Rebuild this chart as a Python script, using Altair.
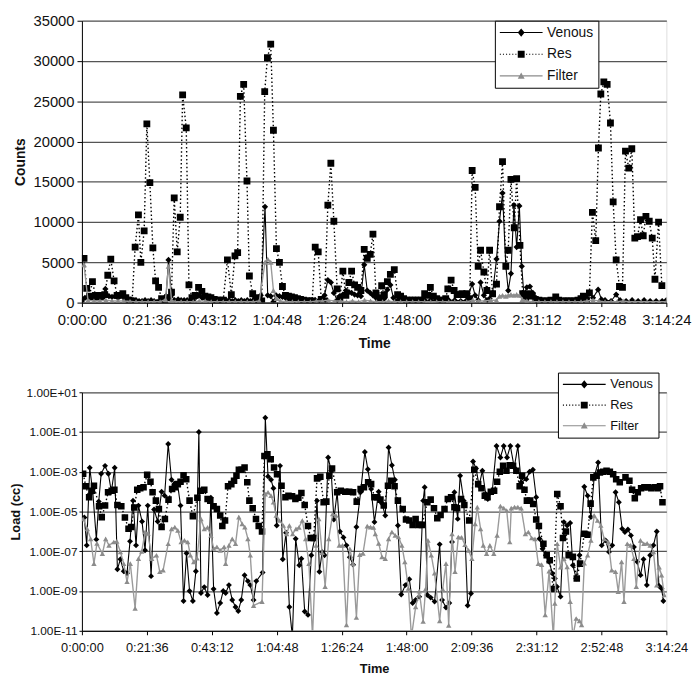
import altair as alt
import pandas as pd

SERIES = ["Venous", "Res", "Filter"]

# ---------------- top panel (Counts) : (minutes, counts) ----------------
TOP_VENOUS = [
    (0.0, 200), (1.0, 600), (2.0, 700), (3.0, 600), (4.0, 500), (5.0, 600), (6.0, 700), (7.0, 600),
    (7.8, 1700), (9.0, 800), (10.0, 700), (11.0, 800), (12.0, 600), (13.0, 900), (14.0, 700),
    (15.0, 500), (16.0, 400), (17.0, 300), (18.0, 300), (19.0, 200), (20.0, 200), (21.0, 300),
    (22.0, 200), (23.0, 300), (24.0, 200), (25.0, 100), (26.0, 200), (27.0, 300), (28.0, 800),
    (28.8, 5300), (29.8, 900), (30.8, 300), (32.0, 400), (33.0, 300), (34.0, 300), (35.0, 300),
    (36.0, 200), (37.0, 300), (38.0, 700), (39.0, 900), (40.0, 600), (41.0, 500), (42.0, 400),
    (43.0, 500), (44.0, 300), (45.0, 200), (46.0, 200), (47.0, 300), (48.0, 300), (49.0, 300),
    (50.0, 200), (51.0, 300), (52.0, 200), (53.0, 300), (54.0, 200), (55.0, 300), (56.0, 200),
    (57.0, 300), (58.0, 200), (59.5, 900), (60.9, 11900), (61.8, 900), (62.8, 800), (63.7, 100),
    (64.6, 900), (65.7, 800), (66.7, 700), (67.7, 600), (68.7, 500), (69.7, 400), (70.7, 300),
    (72.0, 300), (73.0, 200), (74.0, 200), (75.0, 200), (76.6, 300), (77.6, 300), (78.6, 200),
    (79.6, 300), (80.7, 900), (81.8, 2800), (82.8, 2500), (83.8, 1200), (84.9, 300), (85.8, 800),
    (86.8, 1000), (87.8, 1500), (88.8, 1300), (89.7, 1200), (90.7, 1000), (91.7, 900), (92.8, 800),
    (93.9, 4700), (94.9, 1500), (95.9, 1200), (96.8, 900), (97.8, 600), (98.8, 400), (99.7, 300),
    (100.6, 500), (101.6, 1600), (102.6, 2200), (103.6, 600), (105.0, 300), (106.0, 300),
    (108.0, 200), (110.0, 200), (112.0, 200), (114.0, 300), (116.0, 300), (118.0, 200),
    (120.0, 200), (122.0, 300), (124.0, 300), (126.0, 200), (128.0, 300), (129.8, 2300),
    (130.8, 900), (131.8, 300), (132.6, 2500), (133.7, 900), (134.7, 300), (135.6, 500),
    (136.6, 1200), (137.9, 5400), (138.9, 10100), (139.9, 13600), (141.0, 4500), (141.8, 1500),
    (142.7, 3600), (143.7, 12100), (144.6, 6900), (145.5, 12000), (146.3, 4500), (147.0, 1000),
    (148.0, 1900), (149.0, 2000), (150.0, 1200), (151.0, 600), (152.0, 300), (154.0, 200),
    (156.0, 200), (158.0, 200), (160.0, 200), (162.0, 200), (164.0, 200), (166.0, 300),
    (168.0, 500), (168.8, 1100), (170.0, 600), (171.7, 1600), (172.8, 400), (174.0, 300),
    (176.0, 200), (177.7, 1000), (179.0, 300), (181.0, 200), (183.0, 300), (185.0, 200),
    (187.0, 300), (189.0, 200), (191.0, 200), (193.0, 200), (194.4, 300),
]

TOP_RES = [
    (0.7, 5500), (1.6, 1760), (2.5, 800), (3.5, 2600), (4.5, 900), (5.5, 700), (6.5, 900),
    (7.6, 1000), (8.6, 3400), (9.6, 5400), (10.7, 2700), (11.7, 900), (12.6, 900), (13.6, 1100),
    (14.6, 600), (15.6, 300), (16.7, 200), (17.7, 6900), (18.8, 10900), (19.6, 5000),
    (20.7, 8900), (21.6, 22200), (22.6, 14900), (23.6, 6800), (24.5, 2700), (25.5, 1900),
    (26.5, 500), (27.5, 300), (28.5, 600), (29.8, 1300), (30.7, 13000), (31.7, 6300),
    (32.7, 10600), (33.5, 25800), (34.7, 21700), (35.6, 2200), (36.6, 600), (37.7, 900),
    (38.8, 1900), (39.9, 1400), (40.9, 800), (41.9, 700), (42.9, 600), (44.0, 400), (45.0, 300),
    (46.0, 300), (47.0, 300), (48.4, 5300), (49.7, 1000), (50.9, 5800), (51.8, 6200),
    (52.7, 25600), (53.8, 27100), (54.9, 15100), (55.7, 3300), (56.8, 1100), (57.8, 600),
    (58.8, 400), (59.8, 200), (60.8, 26200), (61.7, 30400), (62.8, 32100), (63.7, 21400),
    (64.7, 6700), (65.7, 5000), (66.7, 2000), (67.7, 900), (68.7, 800), (69.7, 700), (70.7, 600),
    (71.7, 500), (72.7, 400), (73.7, 300), (74.7, 200), (75.7, 200), (76.6, 200), (77.6, 6900),
    (78.6, 6300), (79.6, 400), (80.7, 200), (81.8, 12100), (82.8, 17300), (83.8, 10100),
    (84.9, 1700), (85.8, 500), (86.8, 3900), (87.8, 900), (88.8, 2500), (89.7, 3900),
    (90.7, 2200), (91.7, 1900), (92.8, 1500), (93.9, 6600), (94.9, 5500), (95.9, 6000),
    (96.8, 8500), (97.8, 1200), (98.8, 600), (99.7, 2100), (100.6, 1000), (101.6, 2600),
    (102.6, 3500), (103.9, 4100), (105.0, 1000), (106.0, 800), (107.0, 500), (108.0, 300),
    (109.0, 300), (110.0, 300), (111.0, 300), (112.0, 300), (113.0, 300), (114.0, 1100),
    (115.0, 900), (115.9, 1900), (116.9, 800), (118.0, 500), (119.0, 300), (120.0, 300),
    (121.0, 500), (121.7, 1700), (122.8, 2800), (123.8, 1500), (124.8, 1000), (125.6, 1000),
    (126.4, 1100), (127.2, 1000), (128.0, 1100), (129.0, 500), (129.8, 16400), (130.8, 14300),
    (131.8, 4500), (132.6, 6500), (133.7, 3800), (134.7, 1500), (135.6, 6500), (136.6, 1100),
    (137.9, 2300), (138.9, 11900), (139.9, 17500), (141.0, 4500), (141.8, 6500), (142.7, 15300),
    (143.8, 9300), (144.6, 15400), (145.7, 7100), (146.6, 1100), (147.6, 600), (148.8, 1100),
    (149.8, 800), (150.8, 400), (152.0, 300), (153.0, 200), (154.0, 200), (155.0, 200),
    (156.0, 300), (157.6, 700), (158.6, 300), (160.0, 200), (161.0, 200), (162.0, 200),
    (163.0, 200), (164.0, 200), (165.0, 300), (166.0, 500), (166.8, 800), (167.8, 300),
    (168.8, 1200), (169.8, 11200), (170.9, 7700), (171.8, 19200), (172.6, 25900), (173.6, 27400),
    (174.7, 27100), (175.8, 22300), (176.7, 12500), (177.7, 5300), (178.8, 2000), (179.8, 1900),
    (180.8, 18800), (181.9, 16700), (182.9, 19100), (183.9, 8000), (184.8, 8200), (185.8, 10300),
    (186.7, 8300), (187.6, 10700), (188.7, 10100), (189.7, 8000), (190.6, 2900), (191.8, 10000),
    (192.9, 2100),
]

TOP_FILTER = [
    (0.7, 4700), (2.0, 300), (4.0, 200), (6.0, 200), (8.0, 300), (10.0, 200), (12.0, 200),
    (14.0, 200), (16.0, 150), (18.0, 100), (20.0, 100), (22.0, 100), (24.0, 100), (26.0, 100),
    (27.8, 400), (28.8, 4500), (29.8, 300), (31.0, 100), (33.0, 100), (35.0, 100), (37.0, 100),
    (39.0, 200), (41.0, 200), (43.0, 100), (45.0, 100), (47.0, 100), (49.0, 100), (51.0, 100),
    (53.0, 100), (55.0, 100), (57.0, 100), (59.0, 200), (60.9, 5000), (61.8, 5400), (62.8, 5000),
    (63.7, 1500), (64.7, 500), (66.0, 200), (68.0, 100), (70.0, 100), (72.0, 100), (74.0, 100),
    (76.0, 100), (78.0, 200), (80.0, 200), (82.0, 300), (84.0, 200), (86.0, 200), (88.0, 100),
    (90.0, 200), (92.0, 100), (94.0, 300), (96.0, 200), (98.0, 100), (100.0, 100), (102.0, 200),
    (104.0, 100), (106.0, 100), (108.0, 100), (110.0, 100), (112.0, 100), (114.0, 100),
    (116.0, 100), (118.0, 100), (120.0, 100), (122.0, 100), (124.0, 100), (126.0, 100),
    (128.0, 100), (130.0, 300), (132.0, 200), (134.0, 200), (136.0, 300), (137.9, 300),
    (138.9, 800), (139.9, 900), (141.0, 800), (141.8, 900), (142.7, 1000), (143.7, 900),
    (144.6, 1000), (145.5, 900), (146.5, 400), (148.0, 200), (150.0, 100), (152.0, 100),
    (154.0, 100), (156.0, 100), (158.0, 100), (160.0, 100), (162.0, 100), (164.0, 100),
    (166.0, 100), (168.0, 200), (170.0, 300), (172.0, 200), (174.0, 100), (176.0, 100),
    (178.0, 100), (180.0, 200), (182.0, 100), (184.0, 100), (186.0, 100), (188.0, 100),
    (190.0, 100), (192.0, 100), (194.4, 100),
]

# ------------- bottom panel (Load, cc) : (minutes, log10 of load) -------------
BOT_VENOUS_LOG10 = [
    (0.8, -5.3), (1.6, -6.7), (2.6, -2.8), (3.6, -4.0), (4.8, -6.4), (5.6, -4.5), (6.4, -3.1),
    (7.7, -2.7), (8.8, -3.1), (9.8, -4.0), (10.9, -2.8), (11.8, -7.9), (12.8, -7.4), (13.9, -8.0),
    (15.0, -8.1), (16.0, -6.5), (17.0, -4.45), (18.0, -6.7), (18.8, -4.7), (20.0, -5.5),
    (21.0, -6.95), (21.9, -4.7), (23.0, -8.25), (24.0, -4.9), (25.2, -5.5), (26.5, -4.0),
    (27.5, -4.2), (28.7, -1.6), (29.8, -3.4), (30.8, -3.6), (31.8, -3.6), (32.8, -4.7),
    (33.8, -9.5), (34.8, -7.1), (35.8, -9.0), (36.9, -9.5), (37.9, -8.0), (38.9, -1.0),
    (39.6, -9.1), (40.7, -8.8), (41.8, -9.2), (42.9, -4.3), (43.8, -8.9), (44.9, -10.1),
    (46.0, -9.6), (47.0, -9.0), (47.8, -9.1), (48.9, -8.7), (50.0, -9.45), (51.1, -9.8),
    (52.0, -10.0), (53.0, -9.45), (54.1, -8.2), (55.2, -8.5), (56.0, -8.7), (57.1, -9.45),
    (58.0, -8.5), (60.1, -8.07), (61.0, -0.28), (61.9, -3.23), (62.9, -3.4), (63.7, -3.83),
    (64.8, -5.7), (65.9, -2.7), (66.8, -7.4), (67.9, -6.07), (69.0, -9.8), (70.0, -11.3),
    (71.1, -6.37), (72.3, -7.7), (73.0, -7.37), (74.1, -10.03), (75.2, -10.2), (76.3, -7.2),
    (77.4, -6.37), (78.2, -4.45), (79.0, -8.03), (79.9, -7.03), (80.7, -7.2), (81.9, -2.28),
    (82.9, -2.95), (83.8, -5.4), (84.9, -4.03), (85.8, -6.0), (87.0, -6.3), (88.0, -6.7),
    (89.1, -7.3), (90.2, -7.67), (91.3, -5.78), (92.7, -4.03), (94.1, -2.0), (95.1, -2.87),
    (96.2, -3.87), (97.3, -5.53), (98.7, -4.0), (99.8, -4.6), (100.9, -5.2), (102.0, -1.78),
    (103.1, -2.67), (104.1, -3.4), (105.1, -5.7), (106.2, -9.17), (107.6, -8.7), (108.9, -8.4),
    (110.0, -9.6), (111.0, -9.45), (112.2, -9.28), (113.5, -4.45), (114.0, -3.78), (114.9, -9.2),
    (116.0, -9.33), (117.3, -9.53), (119.0, -6.65), (119.8, -9.45), (121.1, -9.83),
    (122.2, -9.6), (123.1, -6.53), (123.9, -4.03), (125.0, -5.37), (125.8, -3.2), (127.0, -4.45),
    (128.3, -9.73), (129.4, -9.12), (130.1, -2.48), (131.1, -2.83), (132.1, -3.7),
    (133.2, -2.95), (134.3, -4.12), (135.0, -4.37), (136.5, -3.95), (137.9, -1.7),
    (139.2, -2.28), (140.3, -1.7), (141.4, -2.28), (142.5, -1.7), (143.8, -2.78), (145.0, -1.7),
    (146.1, -3.53), (147.8, -3.37), (148.9, -3.0), (150.0, -2.9), (151.1, -4.28), (152.2, -6.37),
    (153.2, -6.87), (154.3, -7.2), (155.4, -7.53), (156.5, -8.12), (157.3, -8.37), (158.0, -8.78),
    (159.2, -9.28), (160.3, -5.53), (161.4, -5.7), (162.4, -5.57), (163.3, -7.7), (164.4, -8.37),
    (165.5, -7.2), (167.1, -3.75), (168.2, -4.2), (169.3, -5.28), (170.4, -3.25), (171.7, -2.53),
    (172.9, -6.7), (174.2, -6.45), (175.3, -7.03), (176.4, -6.7), (177.5, -4.03), (178.6, -4.53),
    (179.7, -5.87), (180.6, -6.03), (181.6, -5.9), (182.6, -6.2), (183.6, -6.78), (184.7, -7.53),
    (185.8, -8.2), (186.8, -7.4), (187.9, -8.7), (189.0, -7.2), (190.1, -6.7), (191.2, -6.0),
    (191.9, -8.73), (192.8, -8.87), (193.4, -9.5),
]

BOT_RES_LOG10 = [
    (0.4, -3.1), (1.3, -3.73), (2.4, -4.28), (3.3, -3.95), (4.0, -3.7), (5.7, -4.73),
    (6.6, -5.28), (7.7, -4.7), (8.7, -4.03), (9.9, -3.95), (10.8, -3.9), (11.8, -4.67),
    (13.1, -4.73), (14.3, -5.3), (15.5, -5.87), (16.4, -5.78), (17.4, -4.8), (18.4, -3.9),
    (19.4, -3.83), (20.5, -3.78), (21.7, -3.15), (22.8, -3.5), (23.5, -4.03), (24.6, -4.45),
    (25.6, -4.87), (26.5, -5.78), (27.6, -5.37), (28.8, -4.4), (30.0, -3.87), (30.9, -3.78),
    (31.9, -3.62), (32.8, -3.5), (33.8, -3.17), (34.7, -3.37), (35.8, -4.45), (36.9, -5.23),
    (38.4, -4.3), (39.6, -3.95), (40.7, -3.9), (41.8, -4.37), (42.7, -4.45), (43.8, -4.73),
    (44.9, -4.87), (46.0, -5.2), (46.7, -5.73), (47.6, -5.45), (48.6, -3.73), (49.7, -3.62),
    (50.6, -3.45), (51.4, -3.2), (52.2, -2.9), (53.1, -2.9), (54.1, -2.78), (55.0, -3.53),
    (55.7, -4.45), (56.8, -4.83), (57.9, -5.37), (58.8, -5.73), (59.9, -6.0), (60.7, -2.2),
    (61.7, -2.12), (62.8, -2.37), (63.9, -2.78), (64.9, -3.12), (66.4, -3.7), (67.7, -4.28),
    (68.7, -4.2), (69.9, -4.23), (71.0, -4.37), (72.0, -4.3), (73.0, -4.07), (74.1, -4.67),
    (75.2, -5.73), (76.1, -6.33), (77.1, -6.33), (78.2, -3.33), (79.3, -3.25), (80.4, -4.53),
    (81.3, -4.5), (82.3, -3.2), (83.2, -2.83), (84.9, -4.03), (86.1, -3.95), (87.6, -4.0),
    (88.9, -4.0), (90.2, -4.03), (91.4, -4.5), (92.7, -3.87), (93.8, -3.78), (95.2, -3.53),
    (96.2, -3.62), (97.3, -4.28), (98.2, -4.28), (99.3, -4.4), (100.4, -4.7), (101.8, -3.7),
    (102.9, -3.45), (104.0, -3.73), (105.1, -4.45), (106.7, -4.87), (107.8, -5.4), (108.9, -5.45),
    (110.0, -5.67), (111.0, -5.37), (112.0, -5.67), (113.1, -5.67), (114.9, -4.53), (116.0, -4.4),
    (117.1, -4.83), (118.2, -5.33), (119.3, -5.17), (120.6, -4.87), (121.7, -4.37),
    (122.8, -4.28), (123.9, -4.78), (124.8, -4.83), (126.1, -4.37), (127.2, -4.67),
    (128.8, -5.45), (130.5, -2.9), (131.8, -3.62), (132.9, -3.83), (134.0, -4.2), (134.9, -4.28),
    (136.0, -4.0), (137.1, -3.95), (138.1, -3.5), (139.0, -3.0), (140.1, -2.7), (141.2, -2.95),
    (142.3, -2.67), (143.4, -2.7), (144.5, -2.95), (145.6, -3.73), (146.4, -3.2), (147.2, -3.9),
    (148.0, -4.45), (149.1, -4.45), (150.1, -4.62), (151.1, -5.4), (152.0, -5.73),
    (153.5, -6.62), (154.6, -7.2), (155.6, -7.45), (156.8, -8.9), (158.1, -4.12), (159.2, -4.73),
    (160.0, -6.33), (161.0, -6.0), (161.9, -7.2), (163.3, -7.28), (164.6, -8.37), (165.7, -7.62),
    (167.1, -6.12), (168.2, -6.17), (169.2, -4.6), (170.1, -3.28), (171.2, -3.2), (172.3, -3.03),
    (173.4, -3.0), (174.5, -2.95), (175.6, -3.0), (176.7, -3.12), (177.7, -3.37), (178.9, -3.53),
    (180.8, -3.28), (182.1, -3.45), (183.0, -3.9), (183.9, -4.33), (184.9, -4.03), (186.0, -3.83),
    (187.1, -3.78), (188.3, -3.78), (189.4, -3.83), (190.5, -3.78), (191.6, -3.83),
    (192.3, -3.73), (193.1, -4.53),
]

BOT_FILTER_LOG10 = [
    (0.4, -5.37), (1.8, -5.87), (2.9, -6.37), (4.0, -7.62), (5.0, -6.6), (6.8, -7.12),
    (7.9, -6.37), (9.0, -6.7), (10.6, -6.53), (11.6, -6.5), (12.8, -7.03), (13.9, -7.62),
    (15.0, -8.53), (16.1, -7.62), (17.7, -9.87), (18.8, -7.37), (19.9, -7.0), (21.0, -6.03),
    (22.0, -6.1), (23.2, -7.37), (24.8, -7.2), (25.9, -8.03), (27.0, -7.95), (28.7, -6.62),
    (29.8, -5.87), (30.9, -5.78), (31.9, -5.95), (33.0, -6.53), (34.1, -6.45), (35.2, -6.53),
    (36.1, -7.2), (37.2, -7.53), (38.3, -7.35), (39.6, -5.37), (40.7, -5.87), (41.8, -5.8),
    (42.9, -6.2), (43.8, -6.85), (44.9, -6.78), (46.0, -6.95), (47.3, -6.78), (47.8, -7.62),
    (48.9, -6.7), (50.0, -6.37), (51.1, -6.62), (52.2, -5.28), (53.3, -5.62), (54.2, -5.78),
    (55.2, -6.37), (56.0, -7.2), (57.1, -9.73), (59.9, -9.53), (61.0, -4.12), (61.9, -4.03),
    (62.9, -4.2), (63.7, -4.53), (64.6, -5.2), (65.7, -5.45), (67.0, -5.7), (68.1, -6.12),
    (69.0, -5.7), (70.1, -6.12), (71.2, -5.87), (72.2, -5.8), (73.3, -5.45), (74.4, -6.37),
    (75.5, -7.62), (76.7, -11.3), (77.9, -6.7), (78.8, -5.37), (79.9, -7.07), (80.9, -8.78),
    (82.1, -6.37), (83.4, -5.12), (84.5, -5.2), (85.6, -6.7), (86.7, -6.7), (88.0, -10.7),
    (89.1, -6.87), (90.2, -7.62), (91.3, -10.33), (92.4, -7.17), (93.5, -7.1), (94.9, -5.73),
    (96.0, -5.78), (97.0, -5.8), (97.6, -6.12), (98.7, -6.6), (99.8, -7.28), (100.9, -7.37),
    (102.0, -6.37), (103.1, -6.03), (104.2, -6.2), (105.3, -6.28), (106.4, -6.7), (107.4, -7.53),
    (108.6, -8.87), (109.6, -11.3), (111.0, -9.8), (112.2, -9.0), (113.5, -10.53), (114.3, -8.9),
    (115.1, -6.45), (116.2, -7.2), (117.3, -8.1), (119.0, -10.5), (120.0, -8.9), (121.1, -7.62),
    (122.0, -10.73), (123.1, -6.12), (124.1, -8.03), (125.2, -6.28), (126.3, -6.3),
    (127.4, -6.67), (128.6, -6.95), (129.7, -7.37), (130.8, -5.62), (131.5, -4.78),
    (132.6, -5.87), (133.5, -6.7), (134.6, -7.12), (135.7, -6.7), (137.0, -7.12), (138.1, -6.2),
    (139.2, -4.73), (140.3, -4.83), (141.3, -4.95), (142.3, -6.53), (142.8, -4.83),
    (143.9, -4.78), (145.0, -4.78), (146.1, -4.83), (147.5, -6.12), (148.5, -6.03),
    (149.6, -6.33), (150.7, -6.37), (151.8, -7.62), (152.9, -7.67), (154.1, -10.2), (155.4, -8.0),
    (156.8, -11.3), (157.3, -9.62), (158.1, -6.62), (159.2, -7.8), (160.3, -7.37),
    (161.4, -7.78), (162.4, -9.53), (163.3, -11.3), (164.4, -10.38), (165.5, -10.5),
    (166.2, -10.7), (167.1, -7.6), (168.2, -7.2), (169.3, -6.45), (170.4, -5.2), (171.5, -5.45),
    (172.6, -5.7), (173.7, -6.37), (175.1, -6.53), (176.2, -7.95), (177.5, -8.03), (178.4, -9.03),
    (179.5, -7.53), (180.3, -9.53), (181.4, -6.62), (182.5, -6.7), (183.6, -7.37), (184.4, -8.78),
    (185.8, -6.45), (186.9, -6.62), (188.0, -6.6), (189.0, -6.7), (190.1, -7.03), (191.2, -8.7),
    (192.0, -7.8), (192.8, -8.2), (193.7, -9.2),
]

TIME_TICKS = [0, 21.6, 43.2, 64.8, 86.4, 108, 129.6, 151.2, 172.8, 194.4]
COUNT_TICKS = [0, 5000, 10000, 15000, 20000, 25000, 30000, 35000]
LOAD_TICKS = [10, 0.1, 1e-3, 1e-5, 1e-7, 1e-9, 1e-11]

FONT = "Liberation Sans"

# legend glyphs (symbol box is [-1,1]; glyph runs to the right of it): line + marker
VEN_GLYPH = "M-1,-0.08H5.2V0.08H-1Z M2.1,-0.6L2.6,0L2.1,0.6L1.6,0Z"
RES_GLYPH = ("M-1,-0.08h0.16v0.16h-0.16Z M-0.55,-0.08h0.16v0.16h-0.16Z "
             "M-0.1,-0.08h0.16v0.16h-0.16Z M0.35,-0.08h0.16v0.16h-0.16Z "
             "M0.8,-0.08h0.16v0.16h-0.16Z M1.25,-0.08h0.16v0.16h-0.16Z "
             "M2.8,-0.08h0.16v0.16h-0.16Z M3.25,-0.08h0.16v0.16h-0.16Z "
             "M3.7,-0.08h0.16v0.16h-0.16Z M4.15,-0.08h0.16v0.16h-0.16Z "
             "M4.6,-0.08h0.16v0.16h-0.16Z M5.05,-0.08h0.16v0.16h-0.16Z "
             "M1.6,-0.5H2.6V0.5H1.6Z")
FIL_GLYPH = "M-1,-0.08H5.2V0.08H-1Z M2.1,-0.5L2.6,0.4L1.6,0.4Z"

TIME_LABEL = ("floor(round(datum.value*60)/3600) + ':' + "
              "(floor((round(datum.value*60)%3600)/60) < 10 ? '0' : '') + "
              "floor((round(datum.value*60)%3600)/60) + ':' + "
              "(round(datum.value*60)%60 < 10 ? '0' : '') + round(datum.value*60)%60")
LOAD_LABEL = ("'1.00E' + (round(log(datum.value)/LN10) >= 0 ? '+' : '-') + "
              "(abs(round(log(datum.value)/LN10)) < 10 ? '0' : '') + "
              "abs(round(log(datum.value)/LN10))")


def frame(series_pairs, from_log=False):
    rows = []
    for name, pairs in series_pairs:
        for t, v in pairs:
            rows.append({"t": t, "v": (10 ** v) if from_log else v, "s": name})
    return pd.DataFrame(rows)


def panel(df, y, width, height, sizes, lab_size, ttl_size, lab_pad, ttl_pad, leg_x, leg_y, leg_font, row_pad):
    x = alt.X("t:Q", scale=alt.Scale(domain=[0, 194.4], nice=False, zero=False),
              axis=alt.Axis(values=TIME_TICKS, labelExpr=TIME_LABEL, title="Time",
                            grid=False, tickSize=4, labelFontSize=lab_size, labelFlush=False,
                            labelPadding=lab_pad, titleFontSize=ttl_size, titleFontWeight="bold",
                            titlePadding=ttl_pad, domainColor="#000", tickColor="#000",
                            labelColor="#111", titleColor="#111"))
    styles = {
        "Venous": dict(line_color="#000", width=1.1, dash=[1, 0], shape="diamond", mcol="#000", size=sizes[0]),
        "Res": dict(line_color="#000", width=1.4, dash=[1.5, 2.5], shape="square", mcol="#000", size=sizes[1]),
        "Filter": dict(line_color="#9a9a9a", width=1.4, dash=[1, 0], shape="triangle-up", mcol="#8c8c8c", size=sizes[2]),
    }
    layers = []
    for name in SERIES:
        st = styles[name]
        base = alt.Chart(df).transform_filter(alt.datum.s == name)
        layers.append(base.mark_line(color=st["line_color"], strokeWidth=st["width"],
                                     strokeDash=st["dash"], clip=True).encode(x=x, y=y))
        layers.append(base.mark_point(shape=st["shape"], filled=True, size=st["size"],
                                      color=st["mcol"], opacity=1, clip=True).encode(x=x, y=y))
    legend = alt.Legend(title=None, orient="none", legendX=leg_x, legendY=leg_y,
                        strokeColor="#000", fillColor="#fff", padding=5,
                        symbolSize=196, symbolStrokeWidth=0,
                        labelFontSize=leg_font, labelFont=FONT, labelColor="#111",
                        rowPadding=row_pad, labelOffset=34)
    leg_layer = alt.Chart(df).transform_filter("false").mark_point(filled=True, opacity=1).encode(
        x=x, y=y,
        color=alt.Color("s:N", scale=alt.Scale(domain=SERIES, range=["#000", "#000", "#8c8c8c"]),
                        legend=legend),
        shape=alt.Shape("s:N", scale=alt.Scale(domain=SERIES, range=[VEN_GLYPH, RES_GLYPH, FIL_GLYPH]),
                        legend=legend),
    )
    layers.append(leg_layer)
    return alt.layer(*layers).properties(width=width, height=height)


top_df = frame([("Venous", TOP_VENOUS), ("Res", TOP_RES), ("Filter", TOP_FILTER)])
bot_df = frame([("Venous", BOT_VENOUS_LOG10), ("Res", BOT_RES_LOG10), ("Filter", BOT_FILTER_LOG10)],
               from_log=True)

y_top = alt.Y("v:Q", scale=alt.Scale(domain=[0, 35000], nice=False),
              axis=alt.Axis(values=COUNT_TICKS, format="d", title="Counts", grid=True,
                            gridColor="#555", gridWidth=1.3, tickSize=5, labelFontSize=15,
                            labelPadding=3, titleFontSize=14, titleFontWeight="bold",
                            titlePadding=6, domainColor="#000", tickColor="#000",
                            labelColor="#111", titleColor="#111"))
y_bot = alt.Y("v:Q", scale=alt.Scale(type="log", domain=[1e-11, 10], nice=False),
              axis=alt.Axis(values=LOAD_TICKS, labelExpr=LOAD_LABEL, title="Load (cc)", grid=True,
                            gridColor="#555", gridWidth=1.3, tickSize=3, labelFontSize=12,
                            labelPadding=2, titleFontSize=13, titleFontWeight="bold",
                            titlePadding=4, domainColor="#000", tickColor="#000",
                            labelColor="#111", titleColor="#111"))

top = panel(top_df, y_top, 593, 286, (40, 48, 34), 15, 14, 6, 10, 419, 0, 14, 8)
bottom = panel(bot_df, y_bot, 593, 242, (36, 44, 30), 13, 13, 7, 8, 483, -20, 13, 7)

chart = alt.vconcat(top, bottom, spacing=20,
                    padding={"left": 0, "top": 0, "right": 0, "bottom": 0}).resolve_scale(
    color="independent", shape="independent"
).resolve_legend(color="independent", shape="independent").configure_view(
    stroke="#888", strokeWidth=1
).configure_axis(labelFont=FONT, titleFont=FONT).configure(background="white")

chart.save("out.html", embed_options={"renderer": "svg", "actions": False})
